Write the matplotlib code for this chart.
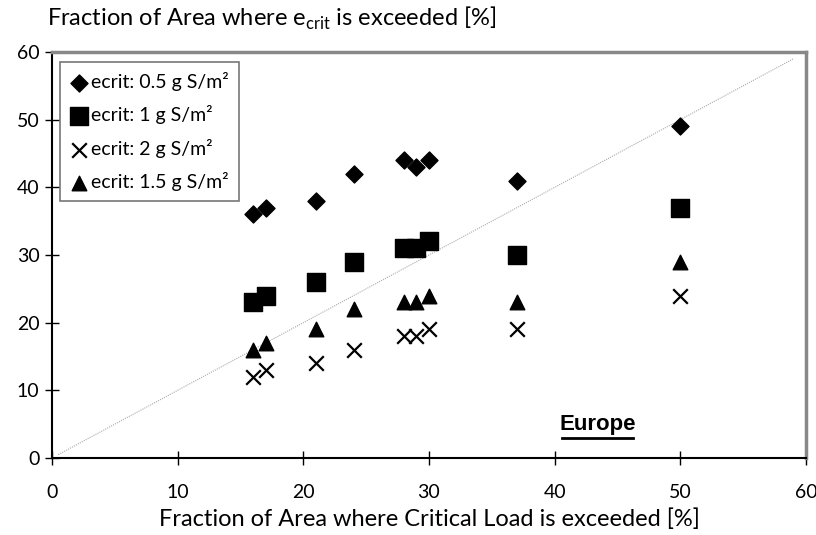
import numpy as np
import matplotlib.pyplot as plt

# valores
x_cl = [16, 17, 21, 24, 28, 29, 30, 37, 50]
y_05 = [36, 37, 38, 42, 44, 43, 44, 41, 49]
y_1 = [23, 24, 26, 29, 31, 31, 32, 30, 37]
y_2 = [12, 13, 14, 16, 18, 18, 19, 19, 24]
y_15 = [16, 17, 19, 22, 23, 23, 24, 23, 29]
linha_1_1 = [0.5, 59]

plt.rcParams['font.family'] = ['Lato', 'DejaVu Sans']

fig = plt.figure(figsize=(8.16, 5.35), dpi=100)
ax = fig.add_axes([52/816, 77/535, 754/816, 406/535])

ax.plot(linha_1_1, linha_1_1, color='#aaaaaa', lw=0.8, ls=(0, (1, 1)))
ax.scatter(x_cl, y_05, marker='D', s=75, color='black', label='ecrit: 0.5 g S/m²', zorder=3)
ax.scatter(x_cl, y_1, marker='s', s=150, color='black', label='ecrit: 1 g S/m²', zorder=3)
ax.scatter(x_cl, y_2, marker='x', s=110, color='black', linewidths=1.6, label='ecrit: 2 g S/m²', zorder=3)
ax.scatter(x_cl, y_15, marker='^', s=110, color='black', label='ecrit: 1.5 g S/m²', zorder=3)

ax.set_xlim(0, 60)
ax.set_ylim(0, 60)
ax.set_xticks(np.arange(0, 61, 10))
ax.set_yticks(np.arange(0, 61, 10))
ax.tick_params(direction='inout', length=10, width=1, labelsize=14)
ax.tick_params(axis='x', pad=14)
ax.tick_params(axis='y', pad=4)
for s in ['left', 'bottom']:
    ax.spines[s].set_linewidth(1.5)
for s in ['top', 'right']:
    ax.spines[s].set_color('#888888')
    ax.spines[s].set_linewidth(2.5)

ax.set_xlabel('Fraction of Area where Critical Load is exceeded [%]', fontsize=17, labelpad=5)
fig.text(47/816, 1 - 18/535, r'Fraction of Area where e$_{\mathregular{crit}}$ is exceeded [%]',
         fontsize=17, va='center', ha='left')

ax.text(43.4, 5.0, 'Europe', fontsize=16, fontweight='bold', family=['Liberation Sans'],
        ha='center', va='center')
ax.plot([40.6, 46.2], [2.9, 2.9], color='black', lw=2)

leg = ax.legend(loc='upper left', bbox_to_anchor=(8/754, 1 - 10/406), fontsize=14, frameon=True,
                fancybox=False, edgecolor='#555555', handletextpad=0.1, handlelength=1.0,
                borderpad=0.5, labelspacing=0.75, scatterpoints=1, borderaxespad=0)
leg.get_frame().set_linewidth(1.2)

fig.savefig('out.png', dpi=100)
